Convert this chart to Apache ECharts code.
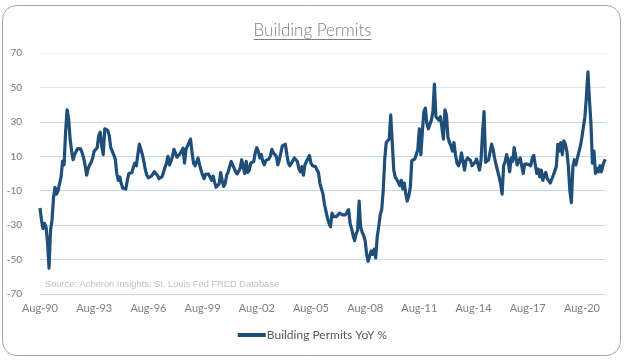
<!DOCTYPE html>
<html>
<head>
<meta charset="utf-8">
<script src="https://cdn.jsdelivr.net/npm/echarts@6/dist/echarts.min.js"></script>
<style>html,body{margin:0;padding:0;background:#fff;}#c{width:625px;height:360px;}</style>
</head>
<body>
<div id="c"></div>
<script>
// Monthly series, first month Aug-1990
const startYear = 1990, startMonth = 7; // 0-based month (Aug)
const seriesName = 'Building Permits YoY %';
const yTicks = [-70, -50, -30, -10, 10, 30, 50, 70];
const permitsYoY = [
-20,-27,-32,-29,-31,-40,-55,-33,-27,-14,-8,-12,-10,-11,-2,7,5,24,37,32,
20,13,8,11,12,14.5,15,14.3,12,9,4.5,-1,3,5,6.5,9,13,14,15,22,
24,16,11,26,27,25,22,15,13,12,8.5,0,-4,-2,-6,-8.5,-9,-9,-4,0,
0.5,0.5,3.6,6,4.5,11,17,16,11,7,2,-1,-2.5,-3,-1.5,-1,1,0.5,-1,-3,
-3.3,-2,0.5,3.5,6,10,5,7,10,14,13,9.5,10.5,11.5,13,14.7,6,14,16,17,
20,12,6,4.5,5.5,9,5,2,-1,-3,-0.5,-1.3,-0.3,-1.3,-4,-1.5,-5,-8,-8,-6,
0.5,-4,-7.5,-6,-1,1,4,7,6,3,1,-0.3,0,3,8,4,0,7,0.6,2,
6,5.5,7,12,15,13,9,11,7,5,7.5,7.5,8.4,10,14,12,11,10,5,8,
9,16,16.5,17,11,6,4.5,6,5,9,9,7,2.6,1,4,-1,5,7,8,10.5,
6,4.5,3.6,4,2,0.6,-6,-9,-12,-18,-22,-26,-29,-31,-23,-25,-24,-25,-25,-23,
-22,-24,-23,-24,-24,-21,-29,-32,-36,-39,-35,-33,-16,-31,-34,-36,-39,-47,-51,-48,
-45,-47,-44,-49,-37,-31,-24,-21,-10,8,18,17,20,34,18,2,-2,-3.5,-5,-7,
-4,-9,-5.5,-12,-16,-13,-8,7.5,8.4,8.4,9.5,14,26,11,24,36,38,29,26,25,
31,36,52,33,33.5,31,33,32,20,37,34,21,18,16,13,18,11,6,4.5,7,
12,7,2,7.5,9,9,7.5,4.5,4.5,6.5,8.4,9.4,2,8,24,36,6.5,7,8,7,
17,14,9,5,1.5,-2,-6,-12,4.5,7,11,7,1,9,7,15,14,5,5,9,
9,0,5.5,5.5,5.5,5.5,4.5,9,10.5,10,0,2.6,-2,2,-4,-1.3,0.6,-3,-2.5,-5.5,
-5,-1,0,4,17,13,18,11,19,17,13,4,-10,-17,4,8,5,9,8,16,
21,20,33,45,59,43,29,6,13,0,3,1,4.5,1,5,7.5,7
];
const monthNames = ['Jan','Feb','Mar','Apr','May','Jun','Jul','Aug','Sep','Oct','Nov','Dec'];
const categories = permitsYoY.map((_, i) => {
  const t = startMonth + i;
  const y = startYear + Math.floor(t / 12);
  return monthNames[t % 12] + '-' + String(y % 100).padStart(2, '0');
});

const titleText = 'Building Permits';
const titleFont = '300 17px Lato';
const cv = document.createElement('canvas').getContext('2d');
cv.font = titleFont;
const tw = cv.measureText(titleText).width;
const cx = 312.5;

const chart = echarts.init(document.getElementById('c'), null, {renderer: 'canvas'});
chart.setOption({
  backgroundColor: '#ffffff',
  animation: false,
  grid: {left: 40, right: 19, top: 53, bottom: 66, containLabel: false},
  xAxis: {
    type: 'category',
    data: categories,
    boundaryGap: false,
    axisLine: {show: false},
    axisTick: {show: false},
    axisLabel: {interval: 35, color: '#7f7f7f', fontFamily: 'Lato', fontSize: 11, margin: 9}
  },
  yAxis: {
    type: 'value',
    min: yTicks[0],
    max: yTicks[yTicks.length - 1],
    interval: 20,
    axisLine: {show: false},
    axisTick: {show: false},
    axisLabel: {color: '#5f7898', fontFamily: 'Lato', fontSize: 10, margin: 18},
    splitLine: {lineStyle: {color: ['#c5d9ef','#c5d9ef','#c5d9ef','#c5d9ef','#c5d9ef','#c5d9ef','#dbe7f5','#eef3f9'], width: 1}}
  },
  legend: {
    bottom: 14,
    left: 'center',
    icon: 'rect',
    itemWidth: 28,
    itemHeight: 4,
    itemGap: 0,
    textStyle: {color: '#595959', fontFamily: 'Lato', fontSize: 12, padding: [0, 0, 0, -4]},
    data: [seriesName]
  },
  series: [{
    name: seriesName,
    type: 'line',
    data: permitsYoY,
    symbol: 'none',
    lineStyle: {color: '#1f4e79', width: 3.2, join: 'round'},
    itemStyle: {color: '#1f4e79'}
  }],
  graphic: [
    {type: 'rect', shape: {x: 2.5, y: 5.5, width: 618, height: 350, r: 14}, style: {fill: 'none', stroke: '#a6a6a6', lineWidth: 1}, silent: true},
    {type: 'text', x: cx, y: 22, style: {text: titleText, font: titleFont, fill: '#808080', align: 'center', verticalAlign: 'top'}},
    {type: 'line', shape: {x1: cx - tw / 2, y1: 39.5, x2: cx + tw / 2, y2: 39.5}, style: {stroke: '#808080', lineWidth: 1}},
    {type: 'text', x: 45, y: 280, style: {text: 'Source: Acheron Insights, St. Louis Fed FRED Database', font: '9.3px "Liberation Sans"', fill: '#c0c0c0'}}
  ]
});
</script>
</body>
</html>
